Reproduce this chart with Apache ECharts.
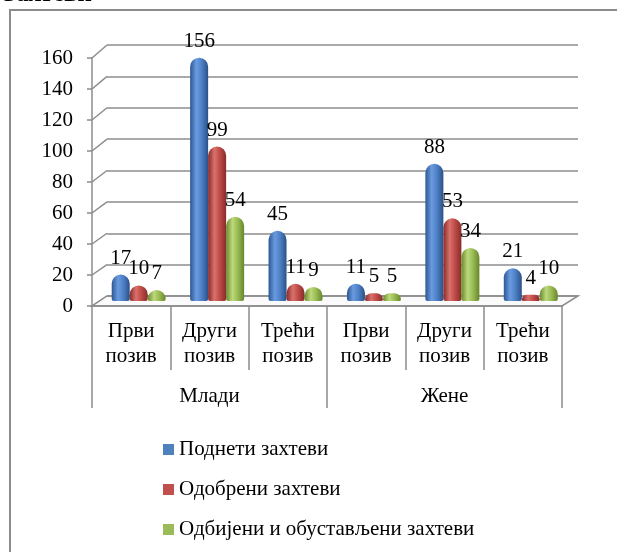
<!DOCTYPE html>
<html><head><meta charset="utf-8">
<script src="https://cdn.jsdelivr.net/npm/echarts@6/dist/echarts.min.js"></script>
<style>html,body{margin:0;padding:0;background:#fff}#c{width:617px;height:552px}</style>
</head><body><div id="c"></div>
<script>
const categories = ['Први\nпозив','Други\nпозив','Трећи\nпозив','Први\nпозив','Други\nпозив','Трећи\nпозив'];
const groups = ['Млади','Жене'];
const seriesNames = ['Поднети захтеви','Одобрени захтеви','Одбијени и обустављени захтеви'];
const submitted = [17,156,45,11,88,21];
const approved = [10,99,11,5,53,4];
const rejected = [7,54,9,5,34,10];
const yTicks = [0,20,40,60,80,100,120,140,160];

const FONT = '"Liberation Serif","Times New Roman",serif';
const FS = 21;
const chart = echarts.init(document.getElementById('c'));
function grad(c0,c1,c2,c3){
  return new echarts.graphic.LinearGradient(0,0,1,0,[
    {offset:0,color:c0},{offset:0.35,color:c1},{offset:0.65,color:c2},{offset:1,color:c3}]);
}
const colors = [
  grad('#2c5893','#6a9be0','#4d7fc4','#2a5189'),
  grad('#8a2a27','#d9716c','#bf4a46','#862d2a'),
  grad('#6a8a2c','#bcd97c','#98ba53','#67862b')
];
const flat = ['#4f81bd','#c0504d','#9bbb59'];
const dataSets = [submitted, approved, rejected];
const yMin = yTicks[0], yMax = yTicks[yTicks.length-1], yStep = yTicks[1]-yTicks[0];

chart.setOption({
  animation:false,
  grid:[
    {left:107,right:39,top:45,bottom:256},
    {left:99.5,right:47,top:51.5,bottom:251},
    {left:92,right:55,top:58,bottom:246}
  ],
  xAxis:[
    {gridIndex:0,type:'category',data:categories,show:false},
    {gridIndex:1,type:'category',data:categories,show:false},
    {gridIndex:2,type:'category',data:categories,position:'bottom',
      axisLine:{show:true,lineStyle:{color:'#8c8c8c',width:1.5}},
      axisTick:{show:true,length:64,lineStyle:{color:'#8c8c8c',width:1.5}},
      axisLabel:{margin:13,fontFamily:FONT,fontSize:FS,color:'#000',lineHeight:25,interval:0}},
    {gridIndex:2,type:'category',data:groups,position:'bottom',offset:64,
      axisLine:{show:false},
      axisTick:{show:true,length:38,lineStyle:{color:'#8c8c8c',width:1.5}},
      axisLabel:{margin:16,fontFamily:FONT,fontSize:FS,color:'#000',interval:0}}
  ],
  yAxis:[
    {gridIndex:0,type:'value',min:yMin,max:yMax,interval:yStep,
      axisLine:{show:false},axisTick:{show:false},axisLabel:{show:false},
      splitLine:{show:true,lineStyle:{color:'#8c8c8c',width:1.5}}},
    {gridIndex:1,type:'value',min:yMin,max:yMax,interval:yStep,show:false,splitLine:{show:false}},
    {gridIndex:2,type:'value',min:yMin,max:yMax,interval:yStep,
      axisLine:{show:true,lineStyle:{color:'#8c8c8c',width:1.5}},
      axisTick:{show:true,length:5,lineStyle:{color:'#8c8c8c',width:1.5}},
      splitLine:{show:false},
      axisLabel:{margin:19,fontFamily:FONT,fontSize:FS,color:'#000'}}
  ],
  legend:{
    orient:'vertical',left:158,top:434,itemWidth:11,itemHeight:11,itemGap:19,icon:'rect',
    textStyle:{fontFamily:FONT,fontSize:FS,color:'#000'},
    data:seriesNames.map((n,i)=>({name:n,itemStyle:{color:flat[i]}}))
  },
  series: seriesNames.map((n,i)=>({
    name:n,type:'bar',xAxisIndex:1,yAxisIndex:1,data:dataSets[i],
    barWidth:18,barGap:'0%',
    itemStyle:{color:colors[i],borderRadius:[9,9,2,2]},
    label:{show:true,position:'top',distance:6,fontFamily:FONT,fontSize:FS,color:'#000'}
  }))
});

// decorative 3D connectors: floor, diagonal ticks, frame, clipped title
const g = [];
g.push({type:'rect',shape:{x:10,y:10,width:800,height:800},style:{fill:'none',stroke:'#8c8c8c',lineWidth:2},z:-10});
g.push({type:'text',x:3,y:7,style:{text:'Захтеви',font:'bold 25px '+FONT,fill:'#000',verticalAlign:'bottom'}});
const frontLeft = 92, frontRight = 617-55, backLeft = 107, backRight = 617-39;
yTicks.forEach(v=>{
  const yf = chart.convertToPixel({yAxisIndex:2},v);
  const yb = chart.convertToPixel({yAxisIndex:0},v);
  g.push({type:'line',shape:{x1:frontLeft,y1:yf,x2:backLeft,y2:yb},style:{stroke:'#8c8c8c',lineWidth:1.5},z:-1});
});
const yf0 = chart.convertToPixel({yAxisIndex:2},yMin), yb0 = chart.convertToPixel({yAxisIndex:0},yMin);
g.push({type:'polygon',shape:{points:[[frontLeft,yf0],[frontRight,yf0],[backRight,yb0],[backLeft,yb0]]},
  style:{fill:'#fafafa',stroke:'#8c8c8c',lineWidth:1.5},z:-1});
chart.setOption({graphic:g});
</script></body></html>
